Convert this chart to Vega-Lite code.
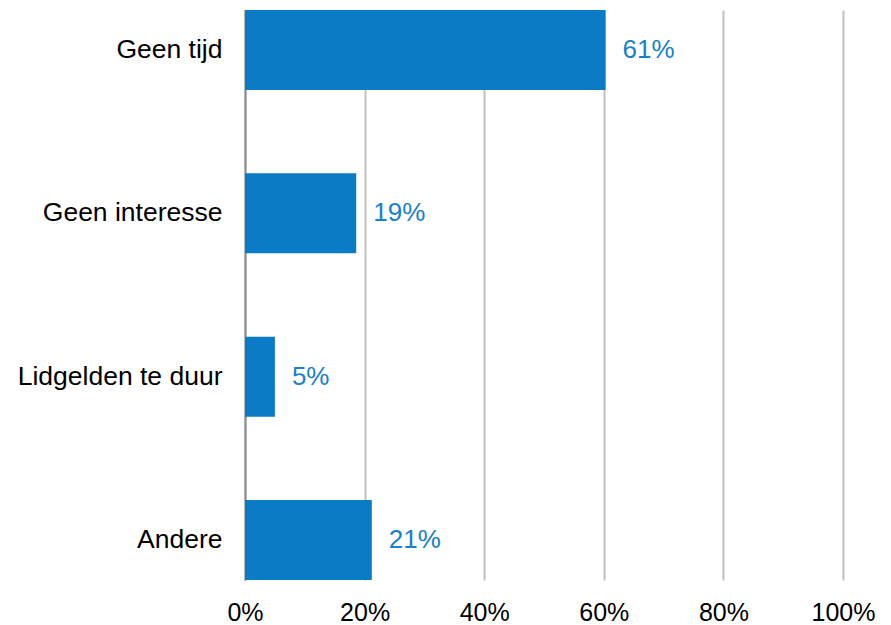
{
  "$schema": "https://vega.github.io/schema/vega-lite/v6.json",
  "width": 598,
  "height": 570,
  "autosize": {"type": "none"},
  "padding": {"left": 245, "top": 10, "right": 48, "bottom": 45},
  "background": "white",
  "config": {"view": {"stroke": null}, "font": "Liberation Sans"},
  "data": {
    "values": [
      {"reason": "Geen tijd", "share": 0.603, "label": "61%"},
      {"reason": "Geen interesse", "share": 0.186, "label": "19%"},
      {"reason": "Lidgelden te duur", "share": 0.05, "label": "5%"},
      {"reason": "Andere", "share": 0.212, "label": "21%"}
    ]
  },
  "encoding": {
    "y": {
      "field": "reason",
      "type": "nominal",
      "sort": null,
      "scale": {"paddingInner": 0.51, "paddingOuter": 0},
      "axis": {
        "title": null,
        "ticks": false,
        "grid": false,
        "labelFontSize": 26.5,
        "labelColor": "#000000",
        "labelPadding": 23,
        "domainColor": "#8c8c8c",
        "domainWidth": 2,
        "labelLimit": 400
      }
    },
    "x": {
      "field": "share",
      "type": "quantitative",
      "scale": {"domain": [0, 1]},
      "axis": {
        "title": null,
        "ticks": false,
        "domain": false,
        "values": [0, 0.2, 0.4, 0.6, 0.8, 1],
        "format": ".0%",
        "labelFontSize": 25,
        "labelColor": "#000000",
        "labelPadding": 20,
        "labelFlush": false,
        "labelOverlap": false,
        "gridColor": "#c0c0c0",
        "gridWidth": 2
      }
    }
  },
  "layer": [
    {"mark": {"type": "bar", "color": "#0a7bc4"}},
    {
      "mark": {"type": "text", "align": "left", "baseline": "middle", "dx": 17, "fontSize": 26, "color": "#1a80c8"},
      "encoding": {"text": {"field": "label"}}
    }
  ]
}
